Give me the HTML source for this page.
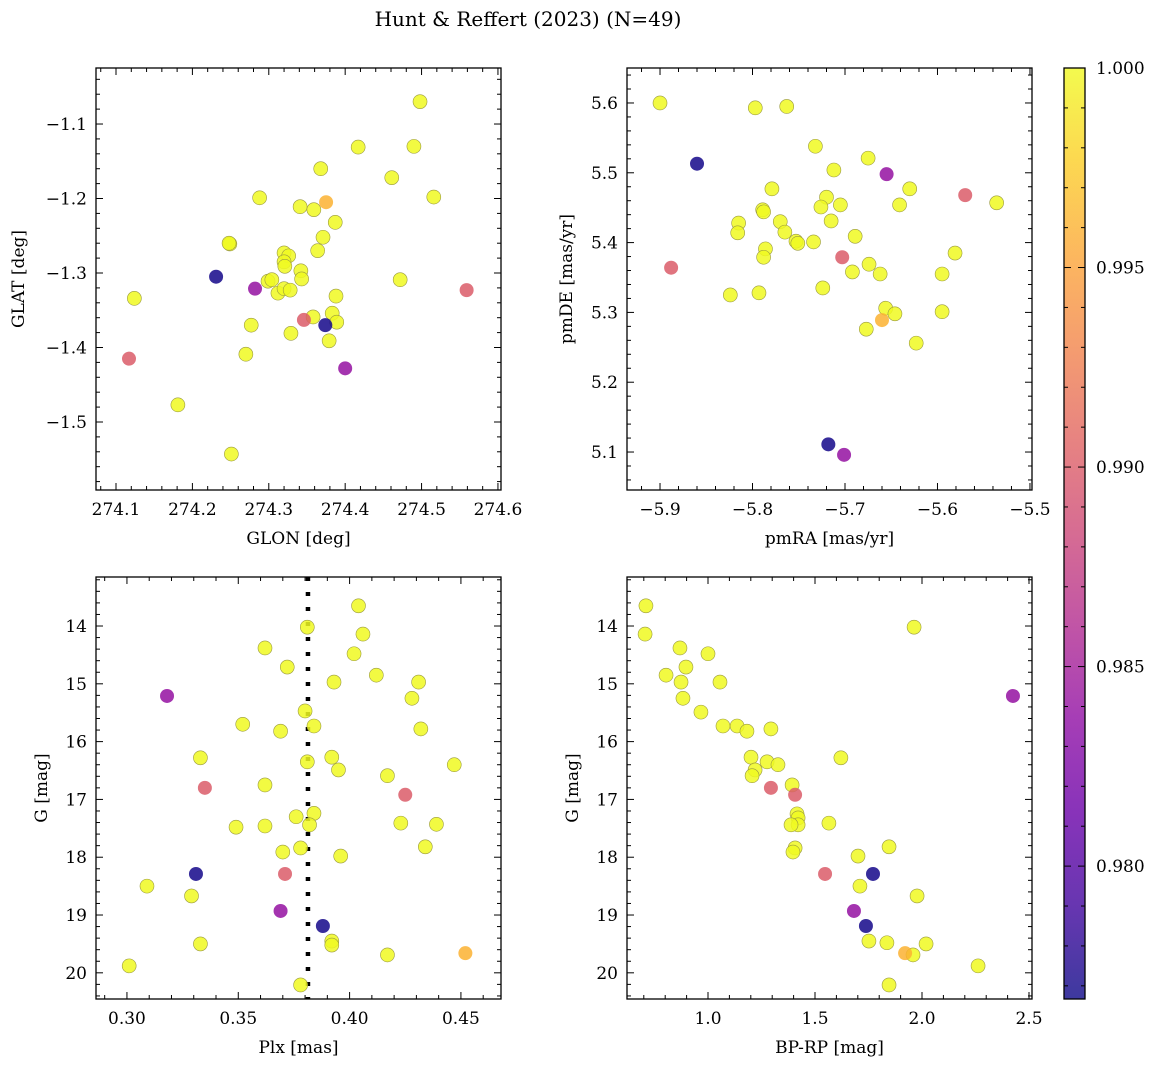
<!DOCTYPE html>
<html><head><meta charset="utf-8"><style>
body{margin:0;background:#fff;}
svg text{font-family:"DejaVu Serif","Liberation Serif",serif;fill:#000;}
</style></head><body>
<svg id="fig" width="1161" height="1067" xmlns="http://www.w3.org/2000/svg">
<defs><linearGradient id="cbg" x1="0" y1="1" x2="0" y2="0">
<stop offset="0" stop-color="#0d0887"/><stop offset="0.1" stop-color="#41049d"/><stop offset="0.2" stop-color="#6a00a8"/><stop offset="0.3" stop-color="#8f0da4"/><stop offset="0.4" stop-color="#b12a90"/><stop offset="0.5" stop-color="#cc4778"/><stop offset="0.6" stop-color="#e16462"/><stop offset="0.7" stop-color="#f2844b"/><stop offset="0.8" stop-color="#fca636"/><stop offset="0.9" stop-color="#fcce25"/><stop offset="1" stop-color="#f0f921"/>
</linearGradient></defs>
<text x="528" y="26" font-size="20" text-anchor="middle">Hunt &amp; Reffert (2023) (N=49)</text>
</svg>
<script>
// ---- data (per panel) ----
const glon=[274.498,274.490,274.417,274.368,274.461,274.375,274.516,274.288,274.341,274.359,274.387,274.371,274.249,274.364,274.320,274.326,274.320,274.321,274.299,274.304,274.342,274.343,274.312,274.320,274.328,274.231,274.472,274.282,274.559,274.124,274.388,274.358,274.346,274.383,274.389,274.374,274.277,274.329,274.379,274.270,274.400,274.117,274.181,274.251,274.248];
const glat=[-1.070,-1.130,-1.131,-1.160,-1.172,-1.205,-1.198,-1.199,-1.211,-1.215,-1.232,-1.252,-1.261,-1.270,-1.273,-1.277,-1.285,-1.291,-1.311,-1.309,-1.297,-1.308,-1.327,-1.321,-1.323,-1.305,-1.309,-1.321,-1.323,-1.334,-1.331,-1.359,-1.363,-1.354,-1.366,-1.370,-1.370,-1.381,-1.391,-1.409,-1.428,-1.415,-1.477,-1.543,-1.260];
const probA=[1,1,1,1,1,0.996,1,1,1,1,1,1,1,1,1,1,1,1,1,1,1,1,1,1,1,0.977,1,0.984,0.990,1,1,1,0.990,1,1,0.977,1,1,1,1,0.984,0.990,1,1,1];

const pmra=[-5.900,-5.797,-5.763,-5.860,-5.732,-5.675,-5.655,-5.712,-5.779,-5.630,-5.570,-5.536,-5.641,-5.720,-5.705,-5.726,-5.789,-5.788,-5.815,-5.770,-5.715,-5.816,-5.765,-5.689,-5.753,-5.734,-5.751,-5.786,-5.788,-5.703,-5.581,-5.888,-5.674,-5.662,-5.692,-5.595,-5.824,-5.793,-5.724,-5.656,-5.646,-5.660,-5.595,-5.677,-5.623,-5.718,-5.701];
const pmde=[5.600,5.593,5.595,5.513,5.538,5.521,5.498,5.504,5.477,5.477,5.468,5.457,5.454,5.465,5.454,5.451,5.447,5.444,5.428,5.430,5.431,5.414,5.415,5.409,5.402,5.401,5.399,5.391,5.379,5.379,5.385,5.364,5.369,5.355,5.358,5.355,5.325,5.328,5.335,5.306,5.298,5.289,5.301,5.276,5.256,5.111,5.096];
const probB=[1,1,1,0.977,1,1,0.984,1,1,1,0.990,1,1,1,1,1,1,1,1,1,1,1,1,1,1,1,1,1,1,0.990,1,0.990,1,1,1,1,1,1,1,1,1,0.996,1,1,1,0.977,0.984];

const plx=[0.404,0.381,0.406,0.362,0.402,0.372,0.412,0.318,0.393,0.431,0.428,0.380,0.352,0.384,0.369,0.432,0.333,0.392,0.381,0.395,0.447,0.417,0.362,0.335,0.425,0.349,0.362,0.376,0.384,0.382,0.423,0.439,0.434,0.378,0.370,0.396,0.331,0.371,0.309,0.329,0.369,0.388,0.392,0.392,0.333,0.417,0.452,0.301,0.378];
const gmagC=[13.65,14.02,14.14,14.38,14.48,14.71,14.85,15.21,14.97,14.97,15.25,15.47,15.70,15.73,15.82,15.78,16.28,16.27,16.35,16.49,16.40,16.59,16.75,16.80,16.92,17.48,17.46,17.30,17.24,17.44,17.41,17.43,17.82,17.84,17.91,17.98,18.29,18.29,18.50,18.67,18.93,19.19,19.45,19.52,19.50,19.69,19.66,19.88,20.21];
const probC=[1,1,1,1,1,1,1,0.984,1,1,1,1,1,1,1,1,1,1,1,1,1,1,1,0.990,0.990,1,1,1,1,1,1,1,1,1,1,1,0.977,0.990,1,1,0.984,0.977,1,1,1,1,0.996,1,1];
const plxMean=[0.3813];

const bprp=[0.710,0.706,1.963,0.869,1.000,0.804,0.897,0.874,1.056,0.883,2.425,0.967,1.136,1.070,1.182,1.294,1.201,1.220,1.276,1.206,1.327,1.621,1.393,1.294,1.407,1.416,1.421,1.421,1.388,1.565,1.407,1.397,1.846,1.701,1.547,1.771,1.710,1.977,1.682,1.738,1.752,1.836,2.019,1.958,1.921,2.262,1.846];
const gmagD=[13.65,14.14,14.02,14.38,14.48,14.85,14.71,14.97,14.97,15.25,15.21,15.49,15.73,15.73,15.82,15.78,16.27,16.49,16.35,16.59,16.40,16.28,16.75,16.80,16.92,17.25,17.32,17.44,17.44,17.41,17.84,17.91,17.82,17.98,18.29,18.29,18.50,18.67,18.93,19.19,19.45,19.48,19.50,19.69,19.66,19.88,20.21];
const probD=[1,1,1,1,1,1,1,1,1,1,0.984,1,1,1,1,1,1,1,1,1,1,1,1,0.990,0.990,1,1,1,1,1,1,1,1,1,0.990,0.977,1,1,0.984,0.977,1,1,1,1,0.996,1,1];

const cbTicks=[0.980,0.985,0.990,0.995,1.000];
const vmin=0.97667, vmax=1.0;

// ---- rendering ----
const NS="http://www.w3.org/2000/svg";
const svg=document.getElementById('fig');
function mk(tag,attrs,parent){const e=document.createElementNS(NS,tag);for(const k in attrs)e.setAttribute(k,attrs[k]);(parent||svg).appendChild(e);return e;}
const stops=[[13,8,135],[65,4,157],[106,0,168],[143,13,164],[177,42,144],[204,71,120],[225,100,98],[242,132,75],[252,166,54],[252,206,37],[240,249,33]];
function plasma(v){let t=(v-vmin)/(vmax-vmin);t=Math.max(0,Math.min(1,t))*10;const i=Math.min(9,Math.floor(t)),f=t-i;const a=stops[i],b=stops[i+1];return `rgb(${a.map((c,k)=>Math.round(c+(b[k]-c)*f)).join(',')})`;}
function fmt(v,d){return (v<0?'\u2212':'')+Math.abs(v).toFixed(d);}

function panel(cfg){
  const {name,x0,y0,x1,y1,xd,yd,xt,yt,xdec,ydec,xminor,yminor,xlabel,ylabel,xs,ys,ps}=cfg;
  const sx=v=>x0+(v-xd[0])/(xd[1]-xd[0])*(x1-x0);
  const sy=v=>y1-(v-yd[0])/(yd[1]-yd[0])*(y1-y0);
  const g=mk('g',{});
  
  
  const clip=mk('clipPath',{id:'c'+name},g);mk('rect',{x:x0,y:y0,width:x1-x0,height:y1-y0},clip);
  const pg=mk('g',{'clip-path':`url(#c${name})`},g);
  if(cfg.vline){const l=mk('line',{x1:sx(cfg.vline),x2:sx(cfg.vline),y1:y0,y2:y1,stroke:'#000','stroke-width':4.5,'stroke-dasharray':'4 11'},pg);
    
    }
  // draw yellow first then colored on top
  const idx=xs.map((_,i)=>i).sort((a,b)=>ps[b]-ps[a]);
  idx.forEach(i=>{const c=mk('circle',{cx:sx(xs[i]),cy:sy(ys[i]),r:7,fill:plasma(ps[i]),'fill-opacity':0.85,stroke:ps[i]>0.999?'#9a9a40':'none','stroke-width':0.6},pg);
    
    });
  mk('rect',{x:x0,y:y0,width:x1-x0,height:y1-y0,fill:'none',stroke:'#000','stroke-width':1.3},g);
  // x ticks
  const xstep=xt[1]-xt[0];
  for(let v=xt[0]-xstep;v<=xd[1]+1e-9;v+=xstep/xminor){const p=sx(v);if(p<x0-0.1||p>x1+0.1)continue;
    const maj=Math.abs(((v-xt[0])/xstep)-Math.round((v-xt[0])/xstep))<1e-6;const L=maj?7:4;
    mk('line',{x1:p,x2:p,y1:y1,y2:y1-L,stroke:'#000','stroke-width':1},g);mk('line',{x1:p,x2:p,y1:y0,y2:y0+L,stroke:'#000','stroke-width':1},g);}
  xt.forEach(v=>{const t=mk('text',{x:sx(v),y:y1+25,'font-size':17,'text-anchor':'middle'},g);t.textContent=fmt(v,xdec);
    
    });
  const ystep=yt[1]-yt[0];
  for(let v=yt[0]-ystep*2;v<=yd[1]+1e-9;v+=ystep/yminor){const p=sy(v);if(p<y0-0.1||p>y1+0.1)continue;
    const maj=Math.abs(((v-yt[0])/ystep)-Math.round((v-yt[0])/ystep))<1e-6;const L=maj?7:4;
    mk('line',{x1:x0,x2:x0+L,y1:p,y2:p,stroke:'#000','stroke-width':1},g);mk('line',{x1:x1,x2:x1-L,y1:p,y2:p,stroke:'#000','stroke-width':1},g);}
  yt.forEach(v=>{const t=mk('text',{x:x0-9,y:sy(v)+6,'font-size':17,'text-anchor':'end'},g);t.textContent=fmt(v,ydec);
    
    });
  const xl=mk('text',{x:(x0+x1)/2,y:y1+54,'font-size':17,'text-anchor':'middle'},g);xl.textContent=xlabel;
  
  
  const yx=cfg.ylx;const yl=mk('text',{x:yx,y:(y0+y1)/2,'font-size':17,'text-anchor':'middle',transform:`rotate(-90 ${yx} ${(y0+y1)/2})`},g);yl.textContent=ylabel;
  
  
}
panel({name:'glon-glat-panel',x0:96,y0:68,x1:501,y1:490,xd:[274.0738,274.604],yd:[-1.5913,-1.0248],xt:[274.1,274.2,274.3,274.4,274.5,274.6],yt:[-1.5,-1.4,-1.3,-1.2,-1.1],xdec:1,ydec:1,xminor:5,yminor:5,xlabel:'GLON [deg]',ylabel:'GLAT [deg]',ylx:24,xs:glon,ys:glat,ps:probA});
panel({name:'pm-panel',x0:627,y0:68,x1:1032,y1:490,xd:[-5.9357,-5.4978],yd:[5.0456,5.6501],xt:[-5.9,-5.8,-5.7,-5.6,-5.5],yt:[5.1,5.2,5.3,5.4,5.5,5.6],xdec:1,ydec:1,xminor:5,yminor:5,xlabel:'pmRA [mas/yr]',ylabel:'pmDE [mas/yr]',ylx:572,xs:pmra,ys:pmde,ps:probB});
panel({name:'plx-g-panel',x0:96,y0:577,x1:501,y1:999,xd:[0.2861,0.4680],yd:[-20.453,-13.152],xt:[0.30,0.35,0.40,0.45],yt:[-20,-19,-18,-17,-16,-15,-14],xdec:2,ydec:0,xminor:5,yminor:5,xlabel:'Plx [mas]',ylabel:'G [mag]',ylx:47,xs:plx,ys:gmagC.map(v=>-v),ps:probC,vline:plxMean[0]});
panel({name:'cmd-panel',x0:627,y0:577,x1:1032,y1:999,xd:[0.6215,2.514],yd:[-20.453,-13.152],xt:[1.0,1.5,2.0,2.5],yt:[-20,-19,-18,-17,-16,-15,-14],xdec:1,ydec:0,xminor:5,yminor:5,xlabel:'BP-RP [mag]',ylabel:'G [mag]',ylx:578,xs:bprp,ys:gmagD.map(v=>-v),ps:probD});
// fix inverted y labels (G shown positive)
document.querySelectorAll('text').forEach(t=>{if(/^\u2212(1[3-9]|20)$/.test(t.textContent))t.textContent=t.textContent.slice(1);});
// colorbar
const cb=mk('g',{});


const cx0=1064,cx1=1085,cy0=68,cy1=999;
mk('rect',{x:cx0,y:cy0,width:cx1-cx0,height:cy1-cy0,fill:'url(#cbg)','fill-opacity':0.8},cb);
mk('rect',{x:cx0,y:cy0,width:cx1-cx0,height:cy1-cy0,fill:'none',stroke:'#000','stroke-width':1.3},cb);
const cy=v=>cy1-(v-vmin)/(vmax-vmin)*(cy1-cy0);
for(let v=0.977;v<=1.00001;v+=0.001){const p=cy(v);if(p<cy0||p>cy1)continue;const maj=Math.abs(v*200-Math.round(v*200))<1e-6;const L=maj?7:4;
  mk('line',{x1:cx1,x2:cx1-L,y1:p,y2:p,stroke:'#000','stroke-width':1},cb);mk('line',{x1:cx0,x2:cx0+L,y1:p,y2:p,stroke:'#000','stroke-width':1},cb);}
cbTicks.forEach(v=>{const t=mk('text',{x:cx1+11,y:cy(v)+6,'font-size':17},cb);t.textContent=v.toFixed(3);
  
  });
</script>
</body></html>
